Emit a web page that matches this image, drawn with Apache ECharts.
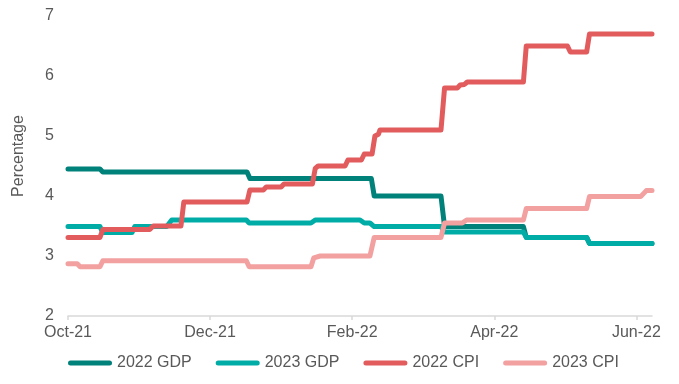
<!DOCTYPE html>
<html>
<head>
<meta charset="utf-8">
<script src="https://cdn.jsdelivr.net/npm/echarts@6/dist/echarts.min.js"></script>
<style>
html,body{margin:0;padding:0;background:#fff;}
#chart{width:679px;height:384px;}
</style>
</head>
<body>
<div id="chart"></div>
<script>
// x = months since Oct-21
var xTickLabels = ['Oct-21', 'Dec-21', 'Feb-22', 'Apr-22', 'Jun-22'];
var xTickValues = [0, 2, 4, 6, 8];
var seriesNames = ['2022 GDP', '2023 GDP', '2022 CPI', '2023 CPI'];

var gdp2022 = [[0,4.45],[0.45,4.45],[0.49,4.40],[2.52,4.40],[2.56,4.29],[4.27,4.29],[4.31,4.00],
  [5.25,4.00],[5.30,3.49],[6.41,3.49],[6.45,3.31],[7.30,3.31],[7.34,3.21],[8.22,3.21]];
var gdp2023 = [[0,3.49],[0.45,3.49],[0.49,3.39],[0.90,3.39],[0.94,3.49],[1.39,3.49],[1.46,3.60],
  [2.51,3.60],[2.55,3.55],[3.42,3.55],[3.48,3.60],[4.11,3.60],[4.17,3.55],[4.25,3.55],[4.31,3.49],
  [5.25,3.49],[5.30,3.40],[6.41,3.40],[6.45,3.31],[7.30,3.31],[7.34,3.21],[8.22,3.21]];
var cpi2022 = [[0,3.31],[0.45,3.31],[0.49,3.44],[1.15,3.44],[1.20,3.50],[1.59,3.50],[1.63,3.90],
  [2.52,3.90],[2.56,4.10],[2.75,4.10],[2.79,4.15],[3.00,4.15],[3.04,4.20],[3.44,4.20],[3.48,4.46],
  [3.52,4.50],[3.90,4.50],[3.94,4.60],[4.13,4.60],[4.17,4.70],[4.28,4.70],[4.32,5.00],[4.37,5.03],
  [4.39,5.10],[5.25,5.10],[5.30,5.80],[5.48,5.80],[5.52,5.85],[5.58,5.86],[5.62,5.90],[6.41,5.90],
  [6.45,6.50],[7.03,6.50],[7.07,6.40],[7.30,6.40],[7.34,6.70],[8.22,6.70]];
var cpi2023 = [[0,2.87],[0.13,2.87],[0.17,2.82],[0.45,2.82],[0.49,2.92],[2.51,2.92],[2.55,2.82],
  [3.42,2.82],[3.46,2.97],[3.55,3.00],[4.25,3.00],[4.31,3.31],[5.25,3.31],[5.30,3.55],[5.55,3.55],
  [5.61,3.60],[6.41,3.60],[6.45,3.79],[7.30,3.79],[7.34,3.99],[8.06,3.99],[8.14,4.09],[8.22,4.09]];

var colors = ['#00827A', '#00ADA6', '#E25C5E', '#F2A0A0'];
var allData = [gdp2022, gdp2023, cpi2022, cpi2023];

var chart = echarts.init(document.getElementById('chart'), null, {renderer: 'canvas'});
var font = 'Liberation Sans, Arial, sans-serif';
var legendIcon = 'path://M2.5,0 H41.5 A2.5,2.5 0 0 1 41.5,5 H2.5 A2.5,2.5 0 0 1 2.5,0 Z';
chart.setOption({
  animation: false,
  color: colors,
  grid: {left: 68, right: 27, top: 16, bottom: 68, containLabel: false},
  xAxis: {
    type: 'value', min: 0, max: 8.22, interval: 2,
    splitLine: {show: false},
    axisLine: {show: true, lineStyle: {color: '#D9D9D9', width: 1.5}},
    axisTick: {show: true, length: 4, lineStyle: {color: '#D9D9D9', width: 1.5}, customValues: xTickValues},
    axisLabel: {
      customValues: xTickValues,
      color: '#595959', fontSize: 16, fontFamily: font, margin: 9,
      formatter: function (v) { var i = xTickValues.indexOf(Math.round(v)); return i >= 0 ? xTickLabels[i] : ''; }
    }
  },
  yAxis: {
    type: 'value', min: 2, max: 7, interval: 1,
    name: 'Percentage', nameLocation: 'middle', nameGap: 41,
    nameTextStyle: {color: '#595959', fontSize: 16, fontFamily: font, padding: [0, 0, 0, 20]},
    splitLine: {show: false},
    axisLine: {show: false}, axisTick: {show: false},
    axisLabel: {color: '#595959', fontSize: 16, fontFamily: font, margin: 14}
  },
  legend: {
    left: 68, top: 355, padding: 0, itemWidth: 44, itemHeight: 5, itemGap: 24,
    textStyle: {color: '#595959', fontSize: 16, fontFamily: font},
    data: seriesNames.map(function (n, i) {
      return {name: n, icon: legendIcon, itemStyle: {color: colors[i]}};
    })
  },
  series: seriesNames.map(function (n, i) {
    return {
      name: n, type: 'line', data: allData[i], showSymbol: false, symbol: 'none',
      lineStyle: {width: 5, cap: 'round', join: 'round', color: colors[i]},
      itemStyle: {color: colors[i]}
    };
  })
});
</script>
</body>
</html>
